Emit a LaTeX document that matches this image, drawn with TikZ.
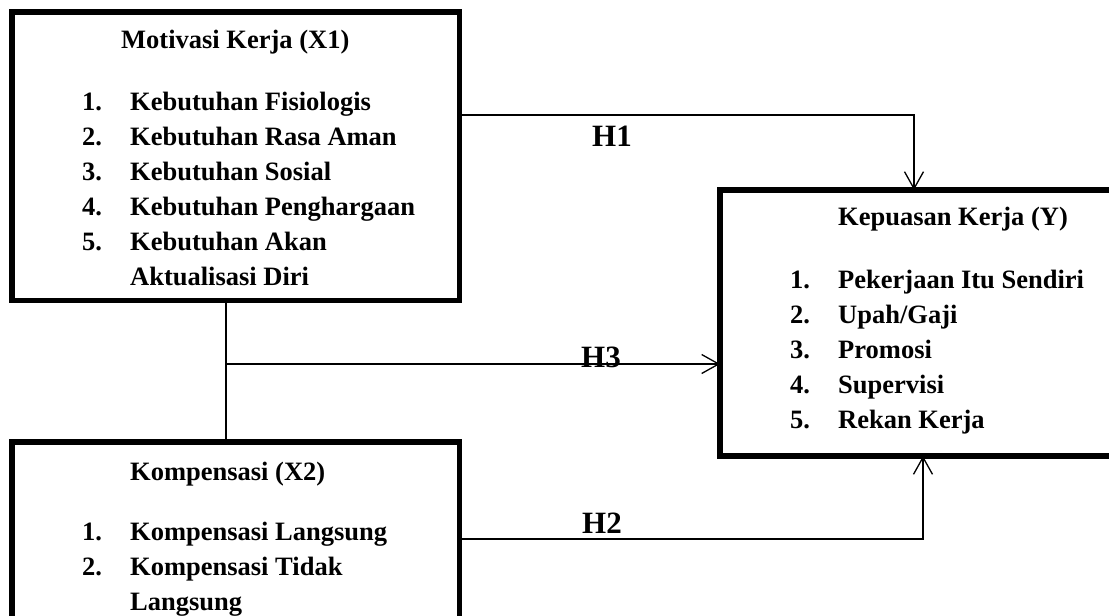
\documentclass[tikz,border=0pt]{standalone}
\usepackage{fontspec}
\setmainfont{Liberation Serif}
\usetikzlibrary{arrows.meta}
\tikzset{
  box/.style={draw, line width=5.5pt, rectangle, outer sep=0pt, inner sep=0pt, anchor=north west},
  txt/.style={anchor=base west, inner sep=0pt, font=\fontsize{26.5}{32}\selectfont\bfseries},
  hlab/.style={anchor=base west, inner sep=0pt, font=\fontsize{31}{36}\selectfont\bfseries},
  conn/.style={line width=1.3pt},
  arr/.style={conn, -{Straight Barb[length=17pt,width=19pt,line width=1.3pt]}}
}
\begin{document}
\begin{tikzpicture}[x=1pt,y=-1pt]
\useasboundingbox (0,0) rectangle (1109,616);
\clip (0,0) rectangle (1109,616);
% boxes
\node[box, minimum width=447.5pt, minimum height=288.5pt] (x1) at (12,12) {};
\node[box, minimum width=447.5pt, minimum height=210pt] (x2) at (12,442) {};
\node[box, minimum width=420pt, minimum height=266pt] (y) at (720,190) {};
% X1 texts
\node[txt] (x1t) at (121,48) {Motivasi Kerja (X1)};
\node[txt] (x1n1) at (82,110) {1.};
\node[txt] (x1i1) at (130,110) {Kebutuhan Fisiologis};
\node[txt] (x1n2) at (82,145) {2.};
\node[txt] (x1i2) at (130,145) {Kebutuhan Rasa Aman};
\node[txt] (x1n3) at (82,180) {3.};
\node[txt] (x1i3) at (130,180) {Kebutuhan Sosial};
\node[txt] (x1n4) at (82,215) {4.};
\node[txt] (x1i4) at (130,215) {Kebutuhan Penghargaan};
\node[txt] (x1n5) at (82,250) {5.};
\node[txt] (x1i5) at (130,250) {Kebutuhan Akan};
\node[txt] (x1i6) at (130,285) {Aktualisasi Diri};
% Y texts
\node[txt] (yt) at (838,225) {Kepuasan Kerja (Y)};
\node[txt] (yn1) at (790,288) {1.};
\node[txt] (yi1) at (838,288) {Pekerjaan Itu Sendiri};
\node[txt] (yn2) at (790,323) {2.};
\node[txt] (yi2) at (838,323) {Upah/Gaji};
\node[txt] (yn3) at (790,358) {3.};
\node[txt] (yi3) at (838,358) {Promosi};
\node[txt] (yn4) at (790,393) {4.};
\node[txt] (yi4) at (838,393) {Supervisi};
\node[txt] (yn5) at (790,428) {5.};
\node[txt] (yi5) at (838,428) {Rekan Kerja};
% X2 texts
\node[txt] (x2t) at (130,480) {Kompensasi (X2)};
\node[txt] (x2n1) at (82,540) {1.};
\node[txt] (x2i1) at (130,540) {Kompensasi Langsung};
\node[txt] (x2n2) at (82,575) {2.};
\node[txt] (x2i2) at (130,575) {Kompensasi Tidak};
\node[txt] (x2i3) at (130,610) {Langsung};
% helper coordinates
\coordinate (h1y) at (0,115);
\coordinate (h1x) at (914,0);
\coordinate (h2y) at (0,539);
\coordinate (h2x) at (923,0);
\coordinate (h3x) at (226,0);
\coordinate (h3j) at (226,364);
% connectors
\draw[arr] (x1.east |- h1y) -| (h1x |- y.north);
\draw[arr] (x2.east |- h2y) -| (h2x |- y.south);
\draw[conn] (h3x |- x1.south) -- (h3x |- x2.north);
\draw[arr] (h3j) -- (y.west |- h3j);
% labels
\node[hlab] (H1) at (592,146) {H1};
\node[hlab] (H2) at (582,533) {H2};
\node[hlab] (H3) at (581,367) {H3};
\end{tikzpicture}
\end{document}
